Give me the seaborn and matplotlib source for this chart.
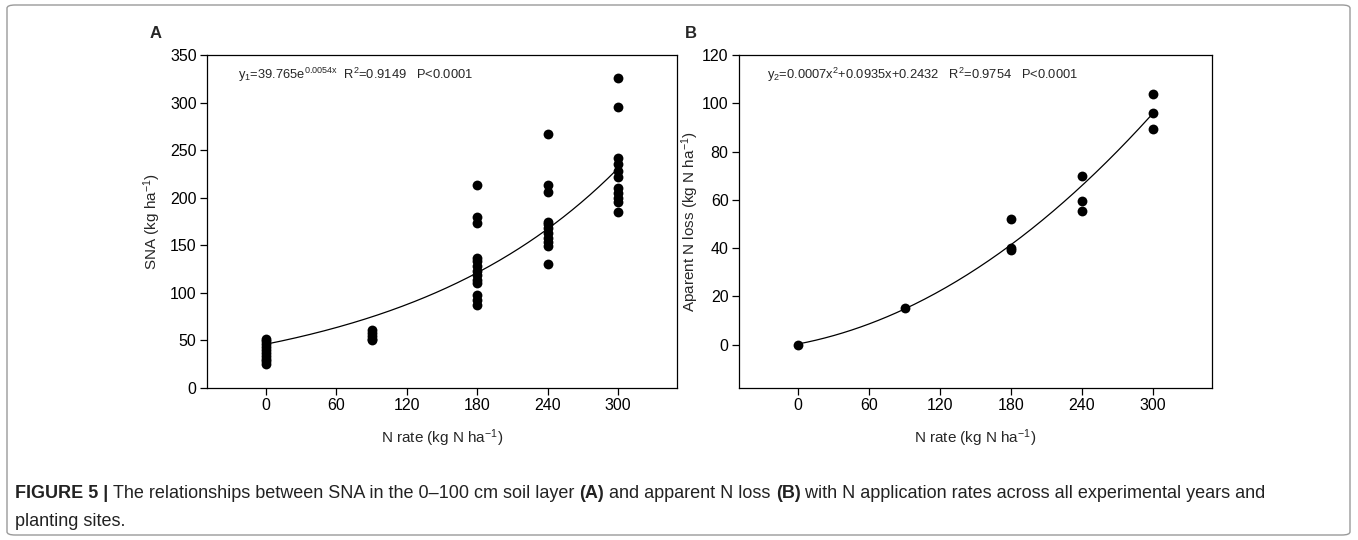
import numpy as np
import pandas as pd
import matplotlib
matplotlib.use("Agg")
import matplotlib.pyplot as plt
from matplotlib.patches import FancyBboxPatch
import seaborn as sns

# panel A: SNA vs N rate
a_rate = [0] * 10 + [90] * 5 + [180] * 13 + [240] * 11 + [300] * 11
a_sna = [25, 28, 31, 34, 37, 40, 43, 46, 49, 52,
         50, 52, 55, 58, 61,
         213, 180, 173, 137, 133, 128, 123, 119, 114, 110, 98, 93, 87,
         267, 213, 206, 175, 172, 168, 163, 158, 153, 149, 130,
         326, 295, 242, 235, 228, 222, 210, 205, 200, 196, 185]

# panel B: apparent N loss vs N rate
b_rate = [0, 90, 180, 180, 180, 240, 240, 240, 300, 300, 300]
b_loss = [0, 15, 52, 40, 39, 70, 59.3, 55.4, 104, 95.8, 89.2]

# fitted curves as drawn in the figure
fit_a = (46.0, 0.00538)            # y = a*exp(b*x)
fit_b = (0.00075, 0.0935, 0.2432)  # y = a*x^2 + b*x + c

x_ticks = [0, 60, 120, 180, 240, 300]
eq_a = r"y$_1$=39.765e$^{0.0054x}$  R$^2$=0.9149   P<0.0001"
eq_b = r"y$_2$=0.0007x$^2$+0.0935x+0.2432   R$^2$=0.9754   P<0.0001"
caption_1 = [("FIGURE 5 | ", "bold"),
             ("The relationships between SNA in the 0\u2013100 cm soil layer ", "normal"),
             ("(A)", "bold"),
             (" and apparent N loss ", "normal"),
             ("(B)", "bold"),
             (" with N application rates across all experimental years and", "normal")]
caption_2 = "planting sites."

df_a = pd.DataFrame({"rate": a_rate, "sna": a_sna})
df_b = pd.DataFrame({"rate": b_rate, "loss": b_loss})
xs = np.linspace(0, 300, 200)
curve_a = pd.DataFrame({"rate": xs, "y": fit_a[0] * np.exp(fit_a[1] * xs)})
curve_b = pd.DataFrame({"rate": xs, "y": fit_b[0] * xs ** 2 + fit_b[1] * xs + fit_b[2]})

sns.set_style("ticks")
plt.rcParams["font.family"] = ["Liberation Sans", "DejaVu Sans"]
plt.rcParams["mathtext.fontset"] = "custom"
plt.rcParams["mathtext.rm"] = "Liberation Sans"
plt.rcParams["mathtext.it"] = "Liberation Sans"
plt.rcParams["mathtext.default"] = "regular"

fig = plt.figure(figsize=(13.58, 5.4), dpi=100)
ax1 = fig.add_axes([207 / 1358, 1 - 388 / 540, 470 / 1358, 333 / 540])
ax2 = fig.add_axes([739 / 1358, 1 - 388 / 540, 473 / 1358, 333 / 540])

sns.lineplot(data=curve_a, x="rate", y="y", ax=ax1, color="black", lw=0.9)
sns.scatterplot(data=df_a, x="rate", y="sna", ax=ax1, color="black", s=50,
                edgecolor="black", linewidth=0, zorder=3)
sns.lineplot(data=curve_b, x="rate", y="y", ax=ax2, color="black", lw=0.9)
sns.scatterplot(data=df_b, x="rate", y="loss", ax=ax2, color="black", s=50,
                edgecolor="black", linewidth=0, zorder=3)

ax1.set_xlim(-50, 350)
ax1.set_ylim(0, 350)
ax1.set_yticks(range(0, 351, 50))
ax2.set_xlim(-50, 350)
ax2.set_ylim(-18, 120)
ax2.set_yticks(range(0, 121, 20))

for ax in (ax1, ax2):
    ax.set_xticks(x_ticks)
    for s in ax.spines.values():
        s.set_linewidth(0.9)
        s.set_color("black")
    ax.tick_params(direction="out", length=5, width=0.9, labelsize=11.5, pad=2.5,
                   top=False, right=False, colors="black")
    ax.set_xlabel(r"N rate (kg N ha$^{-1}$)", fontsize=11, labelpad=10)

ax1.set_ylabel(r"SNA (kg ha$^{-1}$)", fontsize=11, labelpad=5)
ax2.set_ylabel(r"Aparent N loss (kg N ha$^{-1}$)", fontsize=11, labelpad=1)

ax1.text(0.065, 0.94, eq_a, transform=ax1.transAxes, fontsize=9.3, va="center")
ax2.text(0.06, 0.94, eq_b, transform=ax2.transAxes, fontsize=9.3, va="center")

fig.text(150 / 1358, 1 - 33 / 540, "A", fontsize=12, fontweight="bold", va="center")
fig.text(685 / 1358, 1 - 33 / 540, "B", fontsize=12, fontweight="bold", va="center")

# caption with mixed weights
cap_font = ["Liberation Sans Narrow", "Liberation Sans", "DejaVu Sans"]
renderer = fig.canvas.get_renderer()
x = 15 / 1358
y = 1 - 494 / 540
for txt, wt in caption_1:
    t = fig.text(x, y, txt, fontsize=13, fontweight=wt, family=cap_font,
                 va="center", color="#222222")
    bb = t.get_window_extent(renderer=renderer)
    x += bb.width / fig.bbox.width
fig.text(15 / 1358, 1 - 522 / 540, caption_2, fontsize=13, family=cap_font,
         va="center", color="#222222")

border = FancyBboxPatch((7 / 1358, 5 / 540), 1343 / 1358, 530 / 540,
                        boxstyle="round,pad=0,rounding_size=0.006",
                        transform=fig.transFigure, fill=False,
                        edgecolor="#9a9a9a", lw=1.0)
fig.patches.append(border)

fig.savefig("out.png", dpi=100)
